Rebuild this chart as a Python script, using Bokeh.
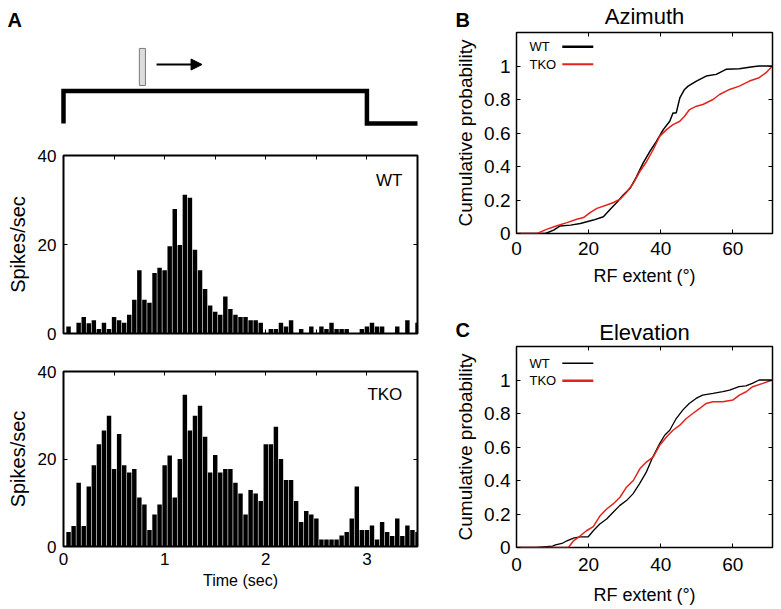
from bokeh.plotting import figure
from bokeh.layouts import row, column
from bokeh.models import (Range1d, FixedTicker, LinearAxis, CustomJSTickFormatter,
                          Label, Arrow, NormalHead)
from bokeh.core.properties import value
from bokeh.embed import file_html
from bokeh.resources import INLINE

FONT = "Liberation Sans"
RED = "#e2231a"

# ---------------- data ----------------
time_bins = [0.05, 0.1, 0.15, 0.2, 0.25, 0.3, 0.35, 0.4, 0.45, 0.5,
             0.55, 0.6, 0.65, 0.7, 0.75, 0.8, 0.85, 0.9, 0.95, 1.0,
             1.05, 1.1, 1.15, 1.2, 1.25, 1.3, 1.35, 1.4, 1.45, 1.5,
             1.55, 1.6, 1.65, 1.7, 1.75, 1.8, 1.85, 1.9, 1.95, 2.0,
             2.05, 2.1, 2.15, 2.2, 2.25, 2.3, 2.35, 2.4, 2.45, 2.5,
             2.55, 2.6, 2.65, 2.7, 2.75, 2.8, 2.85, 2.9, 2.95, 3.0,
             3.05, 3.1, 3.15, 3.2, 3.25, 3.3, 3.35, 3.4, 3.45, 3.5]

wt_rate = [1.6, 0, 2.4, 3.7, 2.3, 3.0, 1.0, 2.4, 1.0, 3.7,
           3.0, 2.4, 4.2, 7.6, 14.2, 7.6, 6.9, 13.6, 14.8, 14.2,
           19.6, 28.0, 19.9, 31.2, 30.5, 18.8, 14.2, 10.0, 6.3, 4.9,
           4.2, 8.3, 5.5, 4.2, 3.7, 3.7, 3.0, 3.0, 2.4, 0,
           1.0, 1.0, 2.4, 1.6, 3.0, 0, 1.0, 0, 1.6, 0,
           1.6, 1.0, 2.4, 1.0, 1.0, 1.0, 0, 0, 1.0, 1.6,
           2.4, 1.6, 1.6, 0, 0, 1.6, 0, 3.0, 0, 2.4]

tko_rate = [3.3, 4.7, 14.6, 4.7, 13.7, 18.6, 23.4, 26.5, 29.9, 17.7,
            25.7, 18.6, 16.9, 17.7, 11.2, 9.6, 3.8, 7.3, 9.6, 18.6,
            20.8, 11.2, 20.0, 34.7, 26.5, 29.9, 32.2, 25.1, 16.9, 20.9,
            16.9, 17.7, 17.7, 14.6, 12.1, 7.3, 12.9, 12.1, 10.4, 23.4,
            23.4, 27.4, 20.0, 15.2, 15.2, 10.4, 5.6, 8.1, 7.3, 6.4,
            1.6, 1.6, 1.6, 1.6, 2.5, 3.3, 6.4, 13.7, 3.8, 3.8,
            4.8, 1.6, 5.6, 3.3, 2.4, 6.4, 2.4, 4.8, 3.8, 3.3]

hist_xticks = [0, 0.5, 1, 1.5, 2, 2.5, 3, 3.5]
hist_yticks = [0, 20, 40]

# stimulus schematic: on from 0 to 3 s, bar sweeping at ~0.78 s
stim_t = [0, 0, 3, 3, 3.5]
stim_level = [0, 1, 1, 0, 0]
bar_t = [0.78]

# cumulative distributions of RF extent (deg)
az_wt_x = [0, 8, 10.3, 12.1, 15, 17.7, 21.3, 24.1, 26, 27.8, 29.6, 31.5, 33.3, 35.1,
           37, 38.8, 40.7, 42.5, 43.4, 44.3, 45.3, 46.6, 47.6, 49.9, 52.6, 55.4,
           58.1, 61.8, 65.5, 67.3, 71]
az_wt_y = [0, 0, 0.02, 0.045, 0.05, 0.06, 0.08, 0.1, 0.145, 0.185, 0.23, 0.27, 0.34,
           0.42, 0.49, 0.55, 0.62, 0.67, 0.72, 0.72, 0.81, 0.86, 0.88, 0.91, 0.94,
           0.95, 0.98, 0.984, 0.996, 1.0, 1.0]
az_tko_x = [0, 5.7, 8.5, 11.2, 14, 16.7, 18.6, 20.4, 22.3, 25, 26.9, 28.7, 30.5, 32.4,
            34.2, 36.1, 37.9, 39.7, 41.6, 43.4, 45.3, 46.6, 48, 49.9, 51.7, 54.5,
            56.3, 59.1, 61.8, 64.6, 67.3, 69.2, 71]
az_tko_y = [0, 0, 0.026, 0.046, 0.065, 0.085, 0.095, 0.125, 0.15, 0.17, 0.185, 0.205,
            0.245, 0.30, 0.37, 0.43, 0.50, 0.58, 0.62, 0.65, 0.67, 0.70, 0.74, 0.76,
            0.77, 0.80, 0.83, 0.86, 0.88, 0.91, 0.93, 0.96, 1.0]

el_wt_x = [0, 5.5, 10, 10.8, 12.6, 14, 15.8, 17.6, 19.9, 21.3, 23.1, 25, 26.8, 28.6,
           30.5, 32.3, 34.1, 36, 37.8, 39.7, 41.1, 42.5, 44.3, 46.1, 47.9, 49.8,
           51.6, 54.5, 57.2, 59.1, 61.7, 63.6, 65.4, 67.3, 71]
el_wt_y = [0, 0, 0.008, 0.016, 0.024, 0.04, 0.056, 0.064, 0.064, 0.10, 0.14, 0.17,
           0.21, 0.25, 0.28, 0.32, 0.38, 0.45, 0.54, 0.62, 0.67, 0.70, 0.77, 0.82,
           0.86, 0.89, 0.91, 0.92, 0.93, 0.94, 0.96, 0.965, 0.98, 1.0, 1.0]
el_tko_x = [0, 14.4, 15.8, 17.7, 19.4, 21.3, 23.2, 25, 26.8, 28.7, 30.5, 32.4, 34.2,
            36, 37.9, 39.7, 41.6, 43.4, 45.3, 47.1, 48.9, 50.8, 52.6, 54.5, 57.2,
            60, 61.8, 63.7, 65.5, 68.3, 71]
el_tko_y = [0, 0, 0.04, 0.07, 0.10, 0.125, 0.19, 0.23, 0.26, 0.30, 0.36, 0.40, 0.47,
            0.51, 0.54, 0.61, 0.66, 0.70, 0.73, 0.77, 0.80, 0.83, 0.86, 0.87, 0.87,
            0.88, 0.91, 0.93, 0.96, 0.98, 1.0]

cdf_xticks = [0, 20, 40, 60]
cdf_yticks = [0, 0.2, 0.4, 0.6, 0.8, 1]


# ---------------- helpers ----------------
def base_axis(ax, ticks, size):
    ax.ticker = FixedTicker(ticks=ticks)
    ax.major_tick_in = 4
    ax.major_tick_out = 0
    ax.minor_tick_in = 0
    ax.minor_tick_out = 0
    ax.axis_line_color = None
    ax.major_tick_line_color = "black"
    ax.major_tick_line_width = 1
    ax.major_label_text_font = FONT
    ax.major_label_text_font_size = size
    ax.major_label_text_color = "black"
    ax.axis_label_text_font = FONT
    ax.axis_label_text_font_style = "normal"
    ax.axis_label_text_color = "black"


def hide_labels(ax):
    ax.formatter = CustomJSTickFormatter(code="return ''")
    ax.major_label_text_font_size = "0px"
    ax.major_label_standoff = 0


def blank_fig(w, h, xr, yr):
    p = figure(width=w, height=h, x_range=xr, y_range=yr, x_axis_type=None,
               y_axis_type=None, output_backend="svg", toolbar_location=None,
               min_border=0, frame_align=False)
    p.grid.visible = False
    p.outline_line_color = None
    p.background_fill_color = "white"
    p.border_fill_color = "white"
    return p


def hist_fig(rates, tag, tag_y, height, top, bottom, show_x):
    p = figure(width=440, height=height, x_range=Range1d(0, 3.5), y_range=Range1d(0, 40),
               output_backend="svg", toolbar_location=None,
               min_border_left=63, min_border_right=23,
               min_border_top=top, min_border_bottom=bottom)
    p.grid.visible = False
    p.outline_line_color = "black"
    p.outline_line_width = 2
    p.vbar(x=time_bins, top=rates, width=0.044, fill_color="black", line_color=None)

    ya = p.yaxis[0]
    base_axis(ya, hist_yticks, "17px")
    ya.axis_label = "Spikes/sec"
    ya.axis_label_text_font_size = "20px"
    ya.major_label_standoff = 7
    ya.axis_label_standoff = 6

    xa = p.xaxis[0]
    base_axis(xa, hist_xticks, "17px")
    if show_x:
        xa.formatter = CustomJSTickFormatter(
            code="return (Number.isInteger(tick) && tick < 3.5) ? tick.toFixed(0) : ''")
        xa.axis_label = "Time (sec)"
        xa.axis_label_text_font_size = "16px"
        xa.major_label_standoff = 6
        xa.axis_label_standoff = 4
    else:
        hide_labels(xa)

    ta = LinearAxis()
    base_axis(ta, hist_xticks, "0px")
    hide_labels(ta)
    p.add_layout(ta, "above")
    ra = LinearAxis()
    base_axis(ra, hist_yticks, "0px")
    hide_labels(ra)
    p.add_layout(ra, "right")

    p.add_layout(Label(x=3.35, y=tag_y, text=tag, text_align="right",
                       text_baseline="middle", text_font=FONT,
                       text_font_size="17px", text_color="black"))
    return p


def cdf_fig(height, top, bottom, tick_standoff, xlab_standoff, wt_x, wt_y, tko_x, tko_y,
            wt_w, tko_w, leg_wt_w, leg_tko_w, leg_wt_y, leg_tko_y):
    p = figure(width=340, height=height, x_range=Range1d(0, 71), y_range=Range1d(0, 1.2),
               output_backend="svg", toolbar_location=None,
               min_border_left=76, min_border_right=8,
               min_border_top=top, min_border_bottom=bottom)
    p.grid.visible = False
    p.outline_line_color = "black"
    p.outline_line_width = 1.5
    p.line(wt_x, wt_y, line_color="black", line_width=wt_w)
    p.line(tko_x, tko_y, line_color=RED, line_width=tko_w)

    xa = p.xaxis[0]
    base_axis(xa, cdf_xticks, "19px")
    xa.axis_label = "RF extent (°)"
    xa.axis_label_text_font_size = "18px"
    xa.major_label_standoff = tick_standoff
    xa.axis_label_standoff = xlab_standoff

    ya = p.yaxis[0]
    base_axis(ya, cdf_yticks, "19px")
    ya.formatter = CustomJSTickFormatter(code="return String(tick)")
    ya.axis_label = "Cumulative probability"
    ya.axis_label_text_font_size = "19px"
    ya.major_label_standoff = 6
    ya.axis_label_standoff = 5

    ta = LinearAxis()
    base_axis(ta, cdf_xticks, "0px")
    hide_labels(ta)
    p.add_layout(ta, "above")
    ra = LinearAxis()
    base_axis(ra, cdf_yticks, "0px")
    hide_labels(ra)
    p.add_layout(ra, "right")

    # legend (text on the left, line sample on the right)
    leg_text_x = 3.6
    leg_line_x = [12.7, 21.3]
    p.text(x=[leg_text_x, leg_text_x], y=[leg_wt_y, leg_tko_y], text=["WT", "TKO"],
           text_font=value(FONT), text_font_size="13px", text_baseline="middle",
           text_color="black")
    p.line(leg_line_x, [leg_wt_y, leg_wt_y], line_color="black", line_width=leg_wt_w)
    p.line(leg_line_x, [leg_tko_y, leg_tko_y], line_color=RED, line_width=leg_tko_w)
    return p


# ---------------- left column ----------------
# stimulus schematic (frame fills the whole figure; x in seconds aligned with histograms)
stim = blank_fig(440, 145, Range1d(-0.6229, 3.7275), Range1d(-0.677, 3.785))
stim.line(stim_t, stim_level, line_color="black", line_width=4.5,
          line_join="miter", line_cap="butt")
stim.rect(x=bar_t, y=[1.74], width=0.06, height=1.14, fill_color="#dcdcdc",
          line_color="#7a7a7a", line_width=1)
stim.add_layout(Arrow(end=NormalHead(size=11, fill_color="black", line_color="black"),
                      x_start=0.92, y_start=1.815, x_end=1.37, y_end=1.815,
                      line_color="black", line_width=2))
stim.text(x=[-0.554], y=[3.2], text=["A"], text_font=value(FONT),
          text_font_style="bold", text_font_size="20px", text_baseline="alphabetic",
          text_color="black")

wt_hist = hist_fig(wt_rate, "WT", 34.3, 210, 10, 22, False)
tko_hist = hist_fig(tko_rate, "TKO", 34.7, 253, 16, 62, True)

left = column(stim, wt_hist, tko_hist, spacing=0)

# ---------------- right column ----------------
hdr_b = blank_fig(340, 30, Range1d(0, 340), Range1d(30, 0))
hdr_b.text(x=[15], y=[19], text=["B"], text_font=value(FONT), text_font_style="bold",
           text_font_size="20px", text_baseline="alphabetic", text_color="black")
hdr_b.text(x=[204], y=[16], text=["Azimuth"], text_font=value(FONT),
           text_font_size="22px", text_align="center", text_baseline="alphabetic",
           text_color="black")

az = cdf_fig(280, 2, 77, 8, 8, az_wt_x, az_wt_y, az_tko_x, az_tko_y, 1.5, 1.5,
             2.5, 2.0, 1.115, 1.01)

hdr_c = blank_fig(340, 34, Range1d(0, 340), Range1d(34, 0))
hdr_c.text(x=[15], y=[19.5], text=["C"], text_font=value(FONT), text_font_style="bold",
           text_font_size="20px", text_baseline="alphabetic", text_color="black")
hdr_c.text(x=[204], y=[21.5], text=["Elevation"], text_font=value(FONT),
           text_font_size="22px", text_align="center", text_baseline="alphabetic",
           text_color="black")

el = cdf_fig(264, 2, 61, 10, 11, el_wt_x, el_wt_y, el_tko_x, el_tko_y, 1.3, 1.5,
             1.3, 2.5, 1.10, 0.995)

right = column(hdr_b, az, hdr_c, el, spacing=0)

layout = row(left, right, spacing=0)

open("out.html", "w").write(file_html(layout, INLINE))
